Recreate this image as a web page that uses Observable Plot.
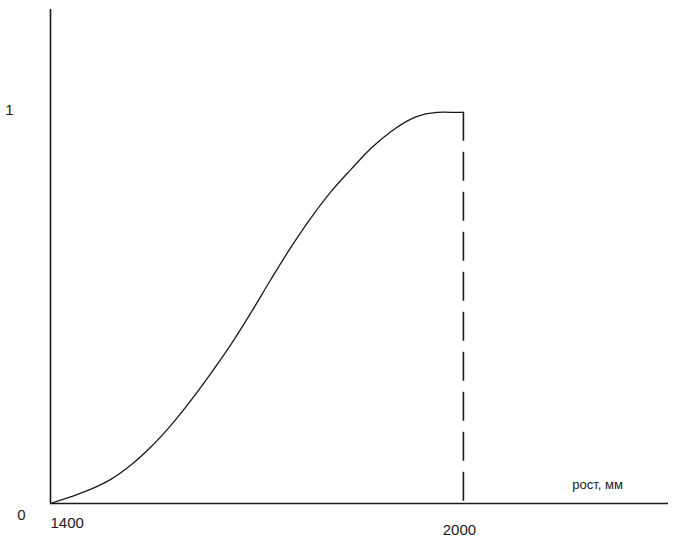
<!DOCTYPE html>
<html>
<head>
<meta charset="utf-8">
<script src="https://cdn.jsdelivr.net/npm/d3@7"></script>
<script src="https://cdn.jsdelivr.net/npm/@observablehq/plot@0.6"></script>
<style>
  html, body { margin: 0; padding: 0; background: #fff; }
  svg { display: block; }
</style>
</head>
<body>
<div id="chart"></div>
<script>
// Height in mm (x) and membership value (y)
const heights = [1400, 1429, 1458, 1487, 1516, 1545, 1574, 1603, 1632, 1662, 1691, 1720, 1749, 1778, 1807, 1836, 1865, 1894, 1923, 1945, 1962, 1991, 2000];
const values  = [0, 0.017, 0.036, 0.061, 0.097, 0.143, 0.198, 0.261, 0.330, 0.406, 0.487, 0.572, 0.654, 0.729, 0.796, 0.853, 0.907, 0.950, 0.982, 0.996, 1.0, 1.0, 1.0];
const xTicks = [1400, 2000];
const yTicks = [0, 1];
const xLabel = "рост, мм";
const cutoff = 2000;
const xMax = 2298;
const yMax = 1.263;

const curveData = heights.map((h, i) => ({x: h, y: values[i]}));
const ink = "#1a1a1a";
const font = "Liberation Sans, Arial, sans-serif";

const chart = Plot.plot({
  width: 678,
  height: 541,
  margin: 0,
  style: {background: "#fff", fontFamily: font, fontSize: "14px", color: ink},
  x: {domain: [1400, xMax], range: [50, 668], axis: null},
  y: {domain: [0, yMax], range: [503, 9], axis: null},
  marks: [
    Plot.ruleX([xTicks[0]], {y1: 0, y2: yMax, stroke: ink, strokeWidth: 1.6}),
    Plot.ruleY([yTicks[0]], {x1: xTicks[0], x2: xMax, stroke: ink, strokeWidth: 1.6}),
    Plot.line(curveData, {x: "x", y: "y", curve: "catmull-rom", stroke: ink, strokeWidth: 1.3}),
    Plot.ruleX([cutoff], {y1: 1, y2: 0, stroke: ink, strokeWidth: 1.6, strokeDasharray: "29,11"}),
    // x tick labels
    Plot.text([xTicks[0]], {x: d => d, y: 0, text: d => String(d), textAnchor: "start", dy: 20, fill: ink, fontSize: 15}),
    Plot.text([xTicks[1]], {x: d => d, y: 0, text: d => String(d), dx: -4, dy: 27, fill: ink, fontSize: 15}),
    // y tick labels
    Plot.text([yTicks[0]], {x: xTicks[0], y: d => d, text: d => String(d), dx: -29, dy: 12, fill: ink, fontSize: 15}),
    Plot.text([yTicks[1]], {x: xTicks[0], y: d => d, text: d => String(d), dx: -41, dy: -2, fill: ink, fontSize: 15}),
    // x axis title
    Plot.text([xLabel], {x: 2195, y: 0, text: d => d, dy: -19, fill: ink, fontSize: 13})
  ]
});
document.getElementById("chart").append(chart);
</script>
</body>
</html>
